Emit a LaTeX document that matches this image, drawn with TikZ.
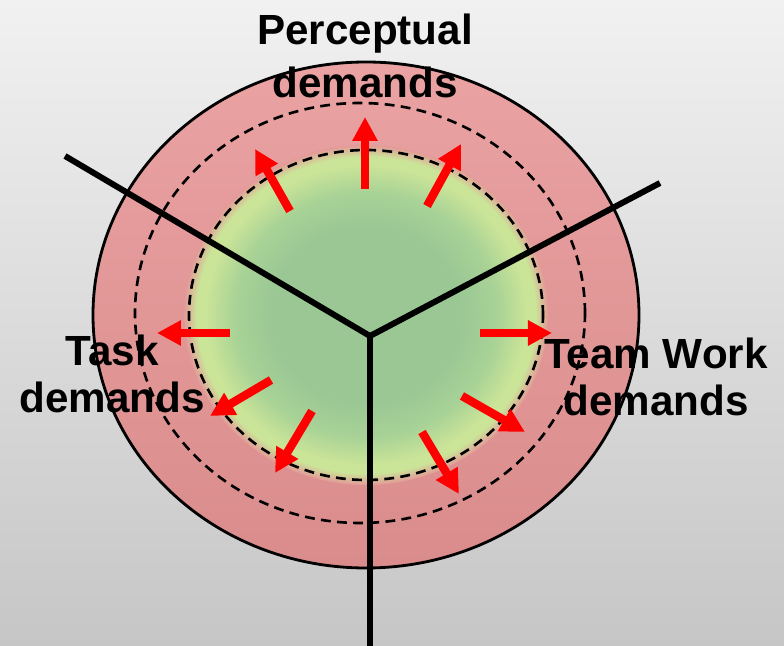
\documentclass[tikz,border=0pt]{standalone}
\usepackage{fontspec}
\setmainfont{Liberation Sans}
\usetikzlibrary{arrows.meta}

\definecolor{bgtop}{RGB}{241,241,241}
\definecolor{bgbot}{RGB}{198,198,198}
\definecolor{pinktop}{RGB}{234,162,162}
\definecolor{pinkbot}{RGB}{218,140,140}
\definecolor{gcore}{RGB}{154,199,148}
\definecolor{gmid}{RGB}{168,210,150}
\definecolor{gedge}{RGB}{202,228,152}
\definecolor{gpink}{RGB}{228,154,152}

\pgfdeclareradialshading{greenglow}{\pgfpoint{0bp}{0bp}}{%
  color(0bp)=(gcore); color(13bp)=(gcore); color(18bp)=(gmid);
  color(22bp)=(gedge); color(23.3bp)=(gedge); color(25bp)=(gpink); color(50bp)=(gpink)}

\tikzset{
  demand/.style={font=\fontsize{12}{13.6}\selectfont\bfseries, align=center, inner sep=0pt},
  push/.style={red, line width=2.4pt, -{Triangle[length=2.4mm,width=2.4mm]}},
  split/.style={line width=1.7pt, line join=miter},
  ring/.style={line width=0.75pt, dash pattern=on 2.8pt off 1.8pt}
}

\begin{document}
\begin{tikzpicture}
  % Sfondo
  \useasboundingbox (0,0) rectangle (7.84,6.46);
  \shade[top color=bgtop, bottom color=bgbot] (0,0) rectangle (7.84,6.46);

  % Anelli
  \draw[line width=0.8pt, top color=pinktop, bottom color=pinkbot]
    (3.66,3.31) ellipse [x radius=2.73cm, y radius=2.53cm];
  \shade[shading=greenglow] (3.66,3.31) ellipse [x radius=1.82cm, y radius=1.70cm];
  \draw[ring] (3.60,3.33) ellipse [x radius=2.25cm, y radius=2.10cm];
  \draw[ring] (3.66,3.31) ellipse [x radius=1.77cm, y radius=1.65cm];

  % Settori
  \coordinate (O) at (3.70,3.10);
  \coordinate (L) at (0.65,4.90);
  \coordinate (R) at (6.60,4.63);
  \coordinate (B) at (3.70,0);
  \draw[split] (L) -- (O) -- (R);
  \draw[split] (O) -- (B);

  % Frecce
  \foreach \tx/\ty/\hx/\hy in {3.65/4.57/3.65/5.29, 2.90/4.35/2.55/4.97,
      4.27/4.40/4.61/5.02, 2.30/3.13/1.57/3.13, 4.80/3.13/5.52/3.13,
      2.71/2.66/2.10/2.30, 3.12/2.35/2.75/1.73, 4.62/2.50/5.25/2.14,
      4.22/2.14/4.59/1.52}
    \draw[push] (\tx,\ty) -- (\hx,\hy);

  % Etichette
  \node[demand] (P) at (3.65,5.90) {Perceptual\\[1.7pt]demands};
  \node[demand] (T) at (1.12,2.72) {Task\\demands};
  \node[demand] (W) at (6.56,2.69) {Team Work\\demands};
\end{tikzpicture}
\end{document}
